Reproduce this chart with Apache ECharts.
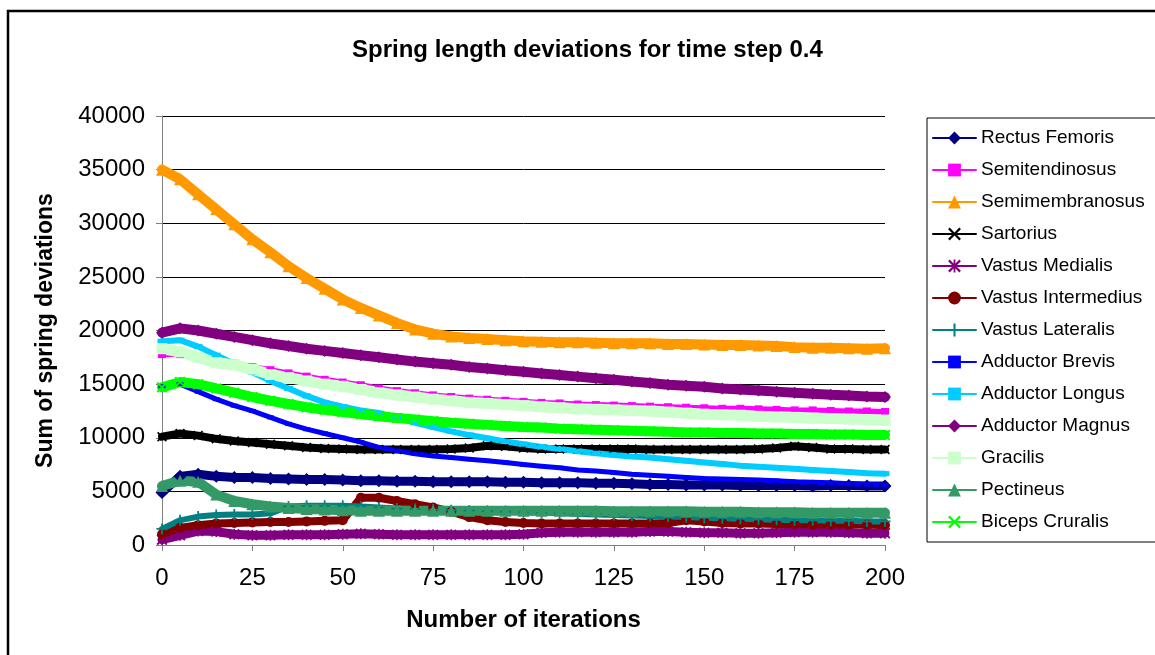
<!DOCTYPE html>
<html>
<head>
<meta charset="utf-8">
<script src="https://cdn.jsdelivr.net/npm/echarts@6/dist/echarts.min.js"></script>
<style>
  html, body { margin: 0; padding: 0; background: #ffffff; }
  #chart { width: 1155px; height: 655px; }
</style>
</head>
<body>
<div id="chart"></div>
<script>
// Iteration numbers at which the deviations are sampled
const iterations = [0, 5, 10, 15, 20, 25, 30, 35, 40, 45, 50, 55, 60, 65, 70, 75, 80, 85, 90, 95, 100,
  105, 110, 115, 120, 125, 130, 135, 140, 145, 150, 155, 160, 165, 170, 175, 180, 185, 190, 195, 200];

// Sum of spring deviations per muscle
const rectusFemoris = [4900, 6400, 6600, 6400, 6300, 6300, 6200, 6150, 6100, 6100, 6050, 6000, 6000, 5950, 5950, 5900, 5900, 5900, 5900, 5850, 5850,
  5800, 5800, 5800, 5750, 5750, 5700, 5650, 5650, 5600, 5600, 5600, 5550, 5550, 5550, 5550, 5500, 5550, 5550, 5500, 5500];
const semitendinosus = [17800, 17800, 17500, 17200, 16900, 16600, 16300, 16000, 15700, 15400, 15150, 14900, 14600, 14350, 14150, 13950, 13800, 13650, 13550, 13450, 13350,
  13250, 13200, 13100, 13050, 13000, 12950, 12900, 12850, 12800, 12750, 12700, 12700, 12650, 12600, 12550, 12550, 12500, 12450, 12450, 12400];
const semimembranosus = [35000, 34100, 32700, 31300, 29900, 28500, 27300, 26000, 24900, 23900, 22900, 22100, 21400, 20700, 20100, 19700, 19450, 19300, 19200, 19100, 19000,
  18950, 18900, 18900, 18850, 18800, 18800, 18800, 18750, 18750, 18700, 18650, 18650, 18600, 18550, 18450, 18400, 18400, 18350, 18300, 18350];
const sartorius = [10100, 10400, 10200, 9900, 9700, 9550, 9400, 9250, 9100, 9000, 8950, 8900, 8900, 8900, 8900, 8900, 8950, 9050, 9250, 9200, 9050,
  8950, 8950, 8950, 8950, 8950, 8950, 8900, 8900, 8900, 8900, 8900, 8900, 8950, 9050, 9200, 9100, 8950, 8950, 8900, 8900];
const vastusMedialis = [500, 900, 1300, 1250, 1000, 900, 900, 950, 950, 950, 1000, 1050, 1000, 950, 950, 950, 950, 950, 950, 950, 1000,
  1150, 1200, 1200, 1200, 1200, 1200, 1250, 1250, 1200, 1150, 1150, 1100, 1100, 1150, 1200, 1200, 1200, 1150, 1100, 1100];
const vastusIntermedius = [1000, 1600, 1850, 2000, 2050, 2100, 2150, 2150, 2200, 2250, 2300, 4400, 4400, 4100, 3800, 3500, 3100, 2600, 2300, 2150, 2050,
  2000, 2000, 2000, 2000, 2000, 2000, 2000, 2050, 2300, 2200, 2050, 2000, 2000, 1950, 1950, 1900, 1900, 1900, 1900, 1850];
const vastusLateralis = [1500, 2300, 2650, 2800, 2850, 2850, 2950, 3600, 3650, 3650, 3650, 3600, 3500, 3400, 3350, 3300, 3250, 3200, 3150, 3100, 3050,
  3000, 2950, 2900, 2850, 2800, 2750, 2700, 2650, 2600, 2550, 2500, 2450, 2400, 2350, 2300, 2300, 2250, 2250, 2200, 2200];
const adductorBrevis = [14800, 15000, 14300, 13600, 13000, 12500, 11900, 11300, 10800, 10400, 10000, 9600, 9100, 8800, 8500, 8300, 8150, 8000, 7850, 7700, 7500,
  7350, 7200, 7000, 6900, 6750, 6600, 6500, 6400, 6300, 6200, 6150, 6100, 6050, 6000, 5900, 5850, 5800, 5700, 5650, 5600];
const adductorLongus = [19000, 19100, 18500, 17700, 16900, 16100, 15300, 14600, 13900, 13300, 12900, 12550, 12300, 11900, 11400, 11000, 10600, 10250, 9950, 9650, 9400,
  9150, 8950, 8750, 8550, 8400, 8250, 8150, 8000, 7850, 7700, 7550, 7400, 7300, 7200, 7100, 7000, 6900, 6800, 6700, 6650];
const adductorMagnus = [19800, 20200, 20000, 19700, 19400, 19100, 18800, 18550, 18300, 18100, 17900, 17700, 17500, 17300, 17100, 16950, 16800, 16600, 16450, 16300, 16150,
  16000, 15850, 15700, 15550, 15400, 15250, 15100, 14950, 14850, 14750, 14600, 14500, 14400, 14300, 14200, 14100, 14000, 13950, 13850, 13800];
const gracilis = [18300, 18000, 17500, 17000, 16800, 16400, 15900, 15600, 15300, 15000, 14800, 14500, 14200, 14000, 13800, 13600, 13450, 13300, 13200, 13100, 13000,
  12900, 12800, 12700, 12650, 12600, 12550, 12500, 12400, 12300, 12200, 12150, 12100, 12000, 11950, 11900, 11850, 11800, 11750, 11700, 11650];
const pectineus = [5500, 6000, 5900, 4700, 4100, 3800, 3600, 3450, 3350, 3300, 3250, 3200, 3200, 3200, 3200, 3200, 3200, 3200, 3200, 3200, 3200,
  3200, 3200, 3200, 3200, 3150, 3150, 3150, 3150, 3150, 3100, 3100, 3100, 3050, 3050, 3050, 3000, 3000, 3000, 3000, 3000];
const bicepsCruralis = [14700, 15200, 15000, 14600, 14200, 13800, 13450, 13150, 12850, 12600, 12400, 12200, 12000, 11850, 11700, 11550, 11400, 11300, 11200, 11100, 11000,
  10950, 10850, 10800, 10750, 10700, 10650, 10600, 10550, 10500, 10500, 10450, 10450, 10400, 10400, 10350, 10350, 10300, 10300, 10250, 10250];

// Marker shapes not built into ECharts
const SYM_CROSS = 'path://M0,1.2L1.2,0L5,3.8L8.8,0L10,1.2L6.2,5L10,8.8L8.8,10L5,6.2L1.2,10L0,8.8L3.8,5Z';
const SYM_PLUS = 'path://M4.2,0H5.8V4.2H10V5.8H5.8V10H4.2V5.8H0V4.2H4.2Z';
const SYM_STAR = 'path://M0,1.2L1.2,0L5,3.8L8.8,0L10,1.2L6.2,5L10,8.8L8.8,10L5,6.2L1.2,10L0,8.8L3.8,5Z M4.3,0H5.7V10H4.3Z';

const FONT = '"Liberation Sans", Arial, sans-serif';

function muscleSeries(name, values, color, symbol, symbolSize, bandWidth) {
  return {
    name: name,
    type: 'line',
    data: iterations.map((it, i) => [it, values[i]]),
    symbol: symbol,
    symbolSize: symbolSize,
    showSymbol: true,
    showAllSymbol: true,
    color: color,
    itemStyle: { color: color },
    lineStyle: { color: color, width: bandWidth, join: 'round', cap: 'round' },
    emphasis: { disabled: true },
    animation: false
  };
}

const series = [
  muscleSeries('Rectus Femoris', rectusFemoris, '#000080', 'diamond', 13, 9),
  muscleSeries('Semitendinosus', semitendinosus, '#FF00FF', 'rect', 8, 6),
  muscleSeries('Semimembranosus', semimembranosus, '#FF9900', 'triangle', 12, 10),
  muscleSeries('Sartorius', sartorius, '#000000', SYM_CROSS, 10, 8),
  muscleSeries('Vastus Medialis', vastusMedialis, '#800080', SYM_STAR, 11, 9),
  muscleSeries('Vastus Intermedius', vastusIntermedius, '#800000', 'circle', 10, 8),
  muscleSeries('Vastus Lateralis', vastusLateralis, '#008080', SYM_PLUS, 11, 6),
  muscleSeries('Adductor Brevis', adductorBrevis, '#0000FF', 'rect', [7, 4], 5),
  muscleSeries('Adductor Longus', adductorLongus, '#00CCFF', 'rect', [9, 5], 6),
  muscleSeries('Adductor Magnus', adductorMagnus, '#800080', 'diamond', 12, 10),
  muscleSeries('Gracilis', gracilis, '#CCFFCC', 'rect', 11, 11),
  muscleSeries('Pectineus', pectineus, '#339966', 'triangle', 12, 10),
  muscleSeries('Biceps Cruralis', bicepsCruralis, '#00FF00', SYM_CROSS, 11, 10)
];

const chart = echarts.init(document.getElementById('chart'), null, { renderer: 'canvas' });
chart.setOption({
  backgroundColor: '#ffffff',
  animation: false,
  title: {
    text: 'Spring length deviations for time step 0.4',
    left: 347,
    top: 33,
    textStyle: { fontFamily: FONT, fontSize: 24, fontWeight: 'bold', color: '#000000' }
  },
  legend: {
    orient: 'vertical',
    left: 927,
    top: 118,
    padding: [10, 60, 10, 5],
    borderColor: '#000000',
    borderWidth: 1,
    backgroundColor: '#ffffff',
    itemWidth: 43,
    itemHeight: 16,
    itemGap: 12,
    lineStyle: { width: 2 },
    textStyle: { fontFamily: FONT, fontSize: 19, lineHeight: 20, color: '#000000' },
    selectedMode: false,
    data: series.map(s => s.name)
  },
  grid: {
    left: 162,
    right: 270,
    top: 116,
    bottom: 110,
    containLabel: false,
    outerBoundsMode: 'none'
  },
  xAxis: {
    type: 'value',
    min: 0,
    max: 200,
    interval: 25,
    name: 'Number of iterations',
    nameLocation: 'middle',
    nameGap: 63,
    nameTextStyle: { fontFamily: FONT, fontSize: 24, fontWeight: 'bold', color: '#000000' },
    axisLine: { show: true, onZero: false, lineStyle: { color: '#808080', width: 1 } },
    axisTick: { show: true, inside: false, length: 6, lineStyle: { color: '#808080' } },
    axisLabel: { fontFamily: FONT, fontSize: 24, color: '#000000', margin: 21 },
    splitLine: { show: false }
  },
  yAxis: {
    type: 'value',
    min: 0,
    max: 40000,
    interval: 5000,
    name: 'Sum of spring deviations',
    nameLocation: 'middle',
    nameGap: 105,
    nameTextStyle: { fontFamily: FONT, fontSize: 23, fontWeight: 'bold', color: '#000000' },
    axisLine: { show: true, lineStyle: { color: '#808080', width: 1 } },
    axisTick: { show: true, inside: false, length: 6, lineStyle: { color: '#808080' } },
    axisLabel: { fontFamily: FONT, fontSize: 24, color: '#000000', margin: 17, formatter: v => String(v) },
    splitLine: { show: true, lineStyle: { color: '#000000', width: 1 } }
  },
  graphic: [{
    type: 'rect',
    silent: true,
    z: 100,
    shape: { x: 8, y: 11, width: 1160, height: 660 },
    style: { fill: 'none', stroke: '#000000', lineWidth: 2.5 }
  }],
  series: series
});
</script>
</body>
</html>
